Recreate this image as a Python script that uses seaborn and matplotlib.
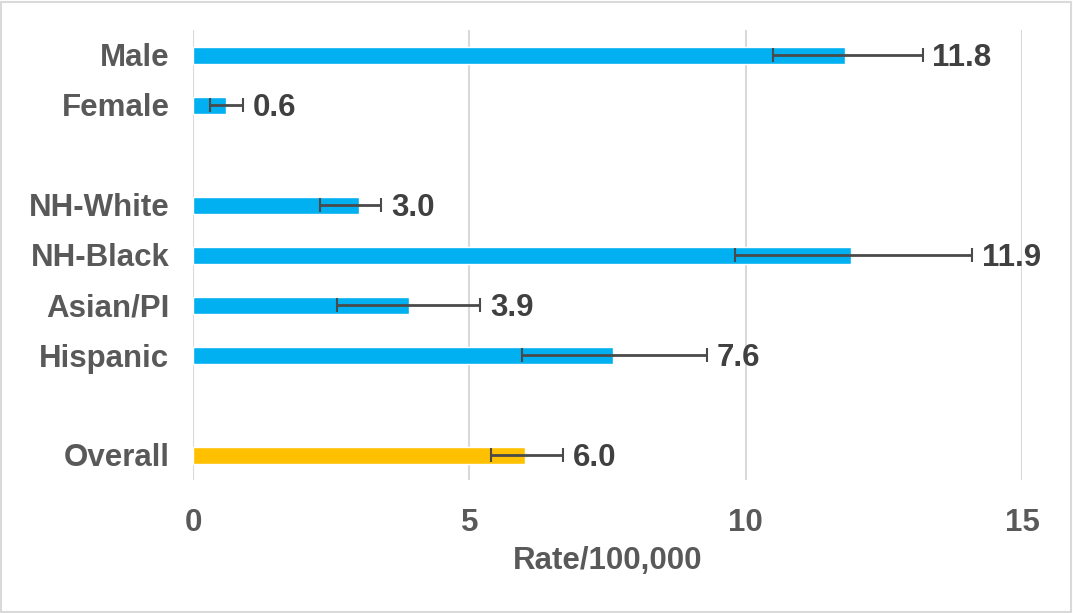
import matplotlib
matplotlib.use("Agg")
import matplotlib.pyplot as plt
import seaborn as sns
import pandas as pd
import numpy as np

# Data
categories = ["Male", "Female", " ", "NH-White", "NH-Black", "Asian/PI", "Hispanic", "  ", "Overall"]
rates = [11.8, 0.6, np.nan, 3.0, 11.9, 3.9, 7.6, np.nan, 6.0]
ci_low = [10.5, 0.3, np.nan, 2.3, 9.8, 2.6, 5.95, np.nan, 5.4]
ci_high = [13.2, 0.9, np.nan, 3.4, 14.1, 5.2, 9.3, np.nan, 6.7]
labels = ["11.8", "0.6", "", "3.0", "11.9", "3.9", "7.6", "", "6.0"]
x_ticks = [0, 5, 10, 15]

blue = "#00B0F0"
gold = "#FFC000"
colors = {c: blue for c in categories}
colors["Overall"] = gold

sns.set_theme(style="white")
plt.rcParams["font.family"] = ["Liberation Sans", "DejaVu Sans"]

df = pd.DataFrame({"category": categories, "rate": rates})

fig = plt.figure(figsize=(10.73, 6.13), dpi=100)
ax = fig.add_axes([193 / 1073, 1 - 480 / 613, (1022 - 193) / 1073, 450 / 613])

sns.barplot(data=df, y="category", x="rate", hue="category", order=categories,
            palette=colors, orient="h", width=0.34, ax=ax, legend=False,
            saturation=1, errorbar=None)

ypos = np.arange(len(categories))
r = np.array(rates)
lo = np.array(ci_low)
hi = np.array(ci_high)
mask = ~np.isnan(r)
ax.errorbar(r[mask], ypos[mask], xerr=[r[mask] - lo[mask], hi[mask] - r[mask]],
            fmt="none", ecolor="#4a4a4a", elinewidth=2, capsize=5, capthick=1.5, zorder=5)

for y, h, lab in zip(ypos, hi, labels):
    if lab:
        ax.text(h + 0.18, y, lab, va="center_baseline", ha="left", fontsize=22.5,
                fontweight="bold", color="#404040", zorder=6)

ax.set_xlim(0, 15)
ax.set_ylim(len(categories) - 0.5, -0.5)
ax.set_xticks(x_ticks)
ax.set_xticklabels([str(t) for t in x_ticks])
ax.grid(axis="x", color="#d9d9d9", linewidth=1.5)
ax.set_axisbelow(True)
for s in ax.spines.values():
    s.set_visible(False)
ax.tick_params(axis="both", length=0, labelsize=22.5, labelcolor="#595959")
ax.tick_params(axis="y", pad=17)
ax.tick_params(axis="x", pad=20)
for t in ax.get_xticklabels() + ax.get_yticklabels():
    t.set_fontweight("bold")
ax.set_ylabel("")
ax.set_xlabel("Rate/100,000", fontsize=22.5, fontweight="bold", color="#595959", labelpad=6)

fig.patches.append(plt.Rectangle((0.001, 0.002), 0.997, 0.995, transform=fig.transFigure,
                                 fill=False, edgecolor="#d9d9d9", linewidth=1.5))

fig.savefig("out.png", dpi=100)
